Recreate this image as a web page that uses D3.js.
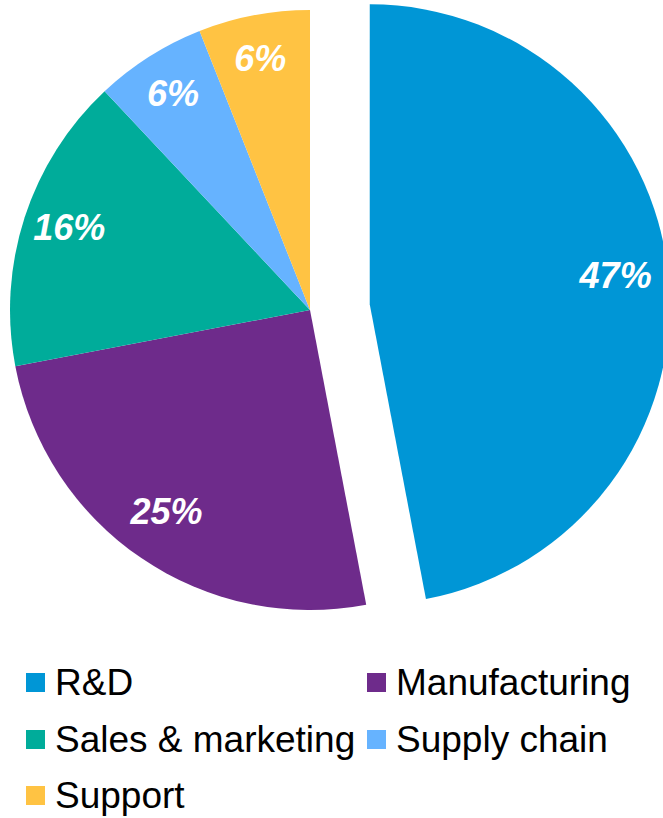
<!DOCTYPE html>
<html>
<head>
<meta charset="utf-8">
<script src="https://cdn.jsdelivr.net/npm/d3@7"></script>
<style>
    body { margin: 0; background: #fff; }
    svg { display: block; }
</style>
</head>
<body>
<svg id="chart" width="663" height="818"></svg>
<script>
// chart data
var categories = ["R&D", "Manufacturing", "Sales & marketing", "Supply chain", "Support"];
var shares = [47, 25, 16, 6, 6];
var labels = ["47%", "25%", "16%", "6%", "6%"];
var colors = ["#0096d6", "#6e2b8b", "#00ac9a", "#66b3ff", "#ffc343"];
var exploded = ["R&D"];

var svg = d3.select("#chart");

var cx = 310, cy = 310, radius = 300, explode = 60, labelRadius = 250;

var pie = d3.pie().sort(null).value(function (d) { return d.value; });
var arc = d3.arc().innerRadius(0).outerRadius(radius);
var labelArc = d3.arc().innerRadius(labelRadius).outerRadius(labelRadius);

var data = categories.map(function (c, i) {
    return { name: c, value: shares[i], label: labels[i], color: colors[i] };
});

var g = svg.append("g").attr("transform", "translate(" + cx + "," + cy + ")");

var slices = g.selectAll(".slice")
    .data(pie(data))
    .enter()
    .append("g")
    .attr("class", "slice")
    .attr("transform", function (d) {
        if (exploded.indexOf(d.data.name) < 0) return null;
        var a = (d.startAngle + d.endAngle) / 2;
        return "translate(" + explode * Math.sin(a) + "," + (-explode * Math.cos(a)) + ")";
    });

slices.append("path")
    .attr("d", arc)
    .attr("fill", function (d) { return d.data.color; });

slices.append("text")
    .attr("transform", function (d) {
        var p = labelArc.centroid(d);
        return "translate(" + (p[0] - 3) + "," + (p[1] - 6) + ")";
    })
    .attr("text-anchor", "middle")
    .attr("dy", "0.36em")
    .attr("fill", "#fff")
    .style("font-family", "'Liberation Sans', Arial, sans-serif")
    .style("font-size", "36px")
    .style("font-weight", "bold")
    .style("font-style", "italic")
    .text(function (d) { return d.data.label; });

// legend, two columns
var legend = svg.append("g").attr("class", "legend");
var colX = [26, 367], rowY = [695, 752, 808];

var items = legend.selectAll(".item")
    .data(data)
    .enter()
    .append("g")
    .attr("class", "item")
    .attr("transform", function (d, i) {
        return "translate(" + colX[i % 2] + "," + rowY[Math.floor(i / 2)] + ")";
    });

items.append("rect")
    .attr("x", 0)
    .attr("y", -22)
    .attr("width", 19)
    .attr("height", 19)
    .attr("fill", function (d) { return d.color; });

items.append("text")
    .attr("x", 29)
    .attr("y", 0)
    .attr("fill", "#000")
    .style("font-family", "'Liberation Sans', Arial, sans-serif")
    .style("font-size", "37px")
    .text(function (d) { return d.name; });
</script>
</body>
</html>
